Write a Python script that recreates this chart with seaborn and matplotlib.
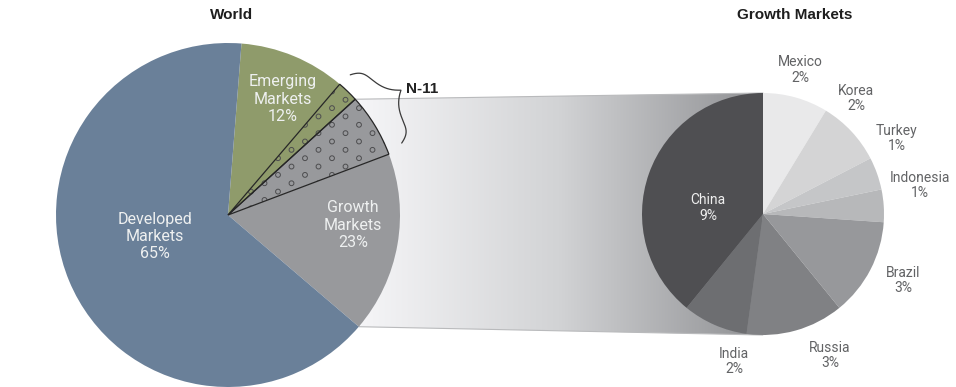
import numpy as np
import matplotlib
matplotlib.use("Agg")
import matplotlib.pyplot as plt
from matplotlib.patches import Polygon, Wedge
from matplotlib.colors import LinearSegmentedColormap
import seaborn as sns

# ---- data -------------------------------------------------------------
segment_names = ["Developed\nMarkets", "Emerging\nMarkets", "Growth\nMarkets"]
segment_shares = [65, 12, 23]          # % of world
emerging_n11_share = 2                 # N-11 members inside Emerging Markets

growth_countries = ["Mexico", "Korea", "Turkey", "Indonesia",
                    "Brazil", "Russia", "India", "China"]
growth_shares = [2, 2, 1, 1, 3, 3, 2, 9]   # % of world
n11_countries = ["Mexico", "Korea", "Turkey", "Indonesia"]

# ---- derived world breakdown, clockwise from the top -------------------
developed, emerging, growth = segment_shares
growth_n11 = sum(s for c, s in zip(growth_countries, growth_shares) if c in n11_countries)
world_values = [emerging - emerging_n11_share, emerging_n11_share,
                growth_n11, growth - growth_n11, developed]

# ---- styling ----------------------------------------------------------
sns.set_theme(style="white")
plt.rcParams["font.family"] = ["Roboto", "DejaVu Sans"]

blue, olive, grey = "#6a8099", "#8f9b6b", "#98999c"
world_colors = [olive, olive, grey, grey, blue]
growth_colors = ["#e9e9ea", "#d4d4d5", "#c5c6c8", "#b7b8ba",
                 "#97989b", "#808184", "#6d6e71", "#4f4f52"]

W, H = 956, 387
fig = plt.figure(figsize=(W / 100, H / 100), dpi=100)
ax = fig.add_axes([0, 0, 1, 1])

left_c, left_r = (228, 172), 172
right_c, right_r = (763, 173), 121
start_world = 85.5


def on_circle(c, r, ang):
    a = np.deg2rad(ang)
    return (c[0] + r * np.cos(a), c[1] + r * np.sin(a))


# ---- world pie --------------------------------------------------------
w_wedges, _ = ax.pie(world_values, colors=world_colors, startangle=start_world,
                     counterclock=False, radius=left_r, center=left_c, frame=True,
                     wedgeprops=dict(linewidth=0))
for w in w_wedges:
    w.set_zorder(3)

# N-11 wedges: dotted pattern of small rings, outlined in black
x_cols = np.arange(left_c[0] - 4, left_c[0] + left_r + 10, 13.5)
ring_x, ring_y = [], []
for i, xc in enumerate(x_cols):
    ys = np.arange(left_c[1] - 10 + (i % 2) * 8.35, left_c[1] + left_r + 10, 16.7)
    ring_x.extend([xc] * len(ys))
    ring_y.extend(ys)
for w in w_wedges[1:3]:
    rings = ax.scatter(ring_x, ring_y, s=12, marker="o", facecolors="none",
                       edgecolors="#4d4d4f", linewidths=0.7, zorder=4)
    rings.set_clip_path(w)
    outline = Wedge(w.center, w.r, w.theta1, w.theta2, facecolor="none",
                    edgecolor="#262626", linewidth=0.9, zorder=5)
    ax.add_patch(outline)

# ---- growth markets pie ----------------------------------------------
g_wedges, _ = ax.pie(growth_shares, colors=growth_colors, startangle=90,
                     counterclock=False, radius=right_r, center=right_c, frame=True,
                     wedgeprops=dict(linewidth=0))
for w in g_wedges:
    w.set_zorder(3)

# ---- connecting band: growth wedge edges -> growth pie top/bottom ------
p_tl = on_circle(left_c, left_r, w_wedges[2].theta2)
p_bl = on_circle(left_c, left_r, w_wedges[3].theta1)
p_tr = (right_c[0], right_c[1] + right_r)
p_br = (right_c[0], right_c[1] - right_r)
band = Polygon([p_tl, p_tr, p_br, p_bl], closed=True, facecolor="none",
               edgecolor="#b9babc", linewidth=0.8, zorder=1)
ax.add_patch(band)
band_cmap = LinearSegmentedColormap.from_list("band", ["#f6f6f8", "#d2d3d5", "#8f9093"])
grad = np.linspace(0, 1, 256).reshape(1, -1)
x0 = min(p_tl[0], p_bl[0])
img = ax.imshow(grad, cmap=band_cmap, aspect="auto", interpolation="bicubic",
                extent=[x0, p_tr[0], p_br[1], p_tr[1]], zorder=0.5)
img.set_clip_path(band)

# ---- N-11 brace around the dotted wedges ------------------------------
th_a = w_wedges[1].theta2
th_b = w_wedges[2].theta1
pa = np.array(on_circle(left_c, left_r + 14, th_a - 0.6))
pb = np.array(on_circle(left_c, left_r + 16, th_b + 1.8))
mid = (pa + pb) / 2
along = (pb - pa) / np.linalg.norm(pb - pa)
normal = np.array([along[1], -along[0]])
if np.dot(normal, mid - np.array(left_c)) < 0:
    normal = -normal
half = np.linalg.norm(pb - pa) / 2
width = 32
u = np.linspace(-half, half, 600)
v = width * 0.40 * (1 - np.exp(-(half - np.abs(u)) / (half * 0.10))) \
    + width * 0.60 * np.exp(-np.abs(u) / (half * 0.30))
v -= width * 0.60 * np.exp(-1 / 0.30)
pts = mid[None, :] + u[:, None] * along[None, :] + v[:, None] * normal[None, :]
ax.plot(pts[:, 0], pts[:, 1], color="#3a3a3a", lw=0.9, zorder=5)
tip = mid + v.max() * normal
ax.text(tip[0] + 5, tip[1] + 1, "N-11", fontsize=11, fontweight="bold",
        color="#222222", ha="left", va="center",
        family=["Liberation Sans", "DejaVu Sans"], zorder=6)

# ---- titles -------------------------------------------------------------
title_kw = dict(fontsize=11, fontweight="bold", color="#1e1e1e", ha="center",
                va="center", family=["Liberation Sans", "DejaVu Sans"])
ax.text(232, 372, "World", **title_kw)
ax.text(795, 372, "Growth Markets", **title_kw)

# ---- world labels -------------------------------------------------------
inner_kw = dict(fontsize=11.5, fontweight="normal", color="#eef0f0",
                ha="center", va="center", linespacing=1.2, zorder=7)
world_label_pos = [(155, 150.5), (283, 288), (353, 162)]
for name, share, (x, y) in zip(segment_names, segment_shares, world_label_pos):
    ax.text(x, y, f"{name}\n{share}%", **inner_kw)

# ---- growth market labels ----------------------------------------------
growth_label_pos = [(800, 317), (856, 288.5), (897, 248.5), (920, 201.5),
                    (903, 106.5), (830, 31.5), (734, 25.5), (708, 179)]
for name, share, (x, y) in zip(growth_countries, growth_shares, growth_label_pos):
    col = "#eeeeee" if name == "China" else "#626365"
    ax.text(x, y, f"{name}\n{share}%", fontsize=10, fontweight="normal",
            color=col, ha="center", va="center", linespacing=1.15, zorder=7)

ax.set_xlim(0, W)
ax.set_ylim(0, H)
ax.set_aspect("equal")
ax.axis("off")
fig.savefig("out.png", dpi=100)
